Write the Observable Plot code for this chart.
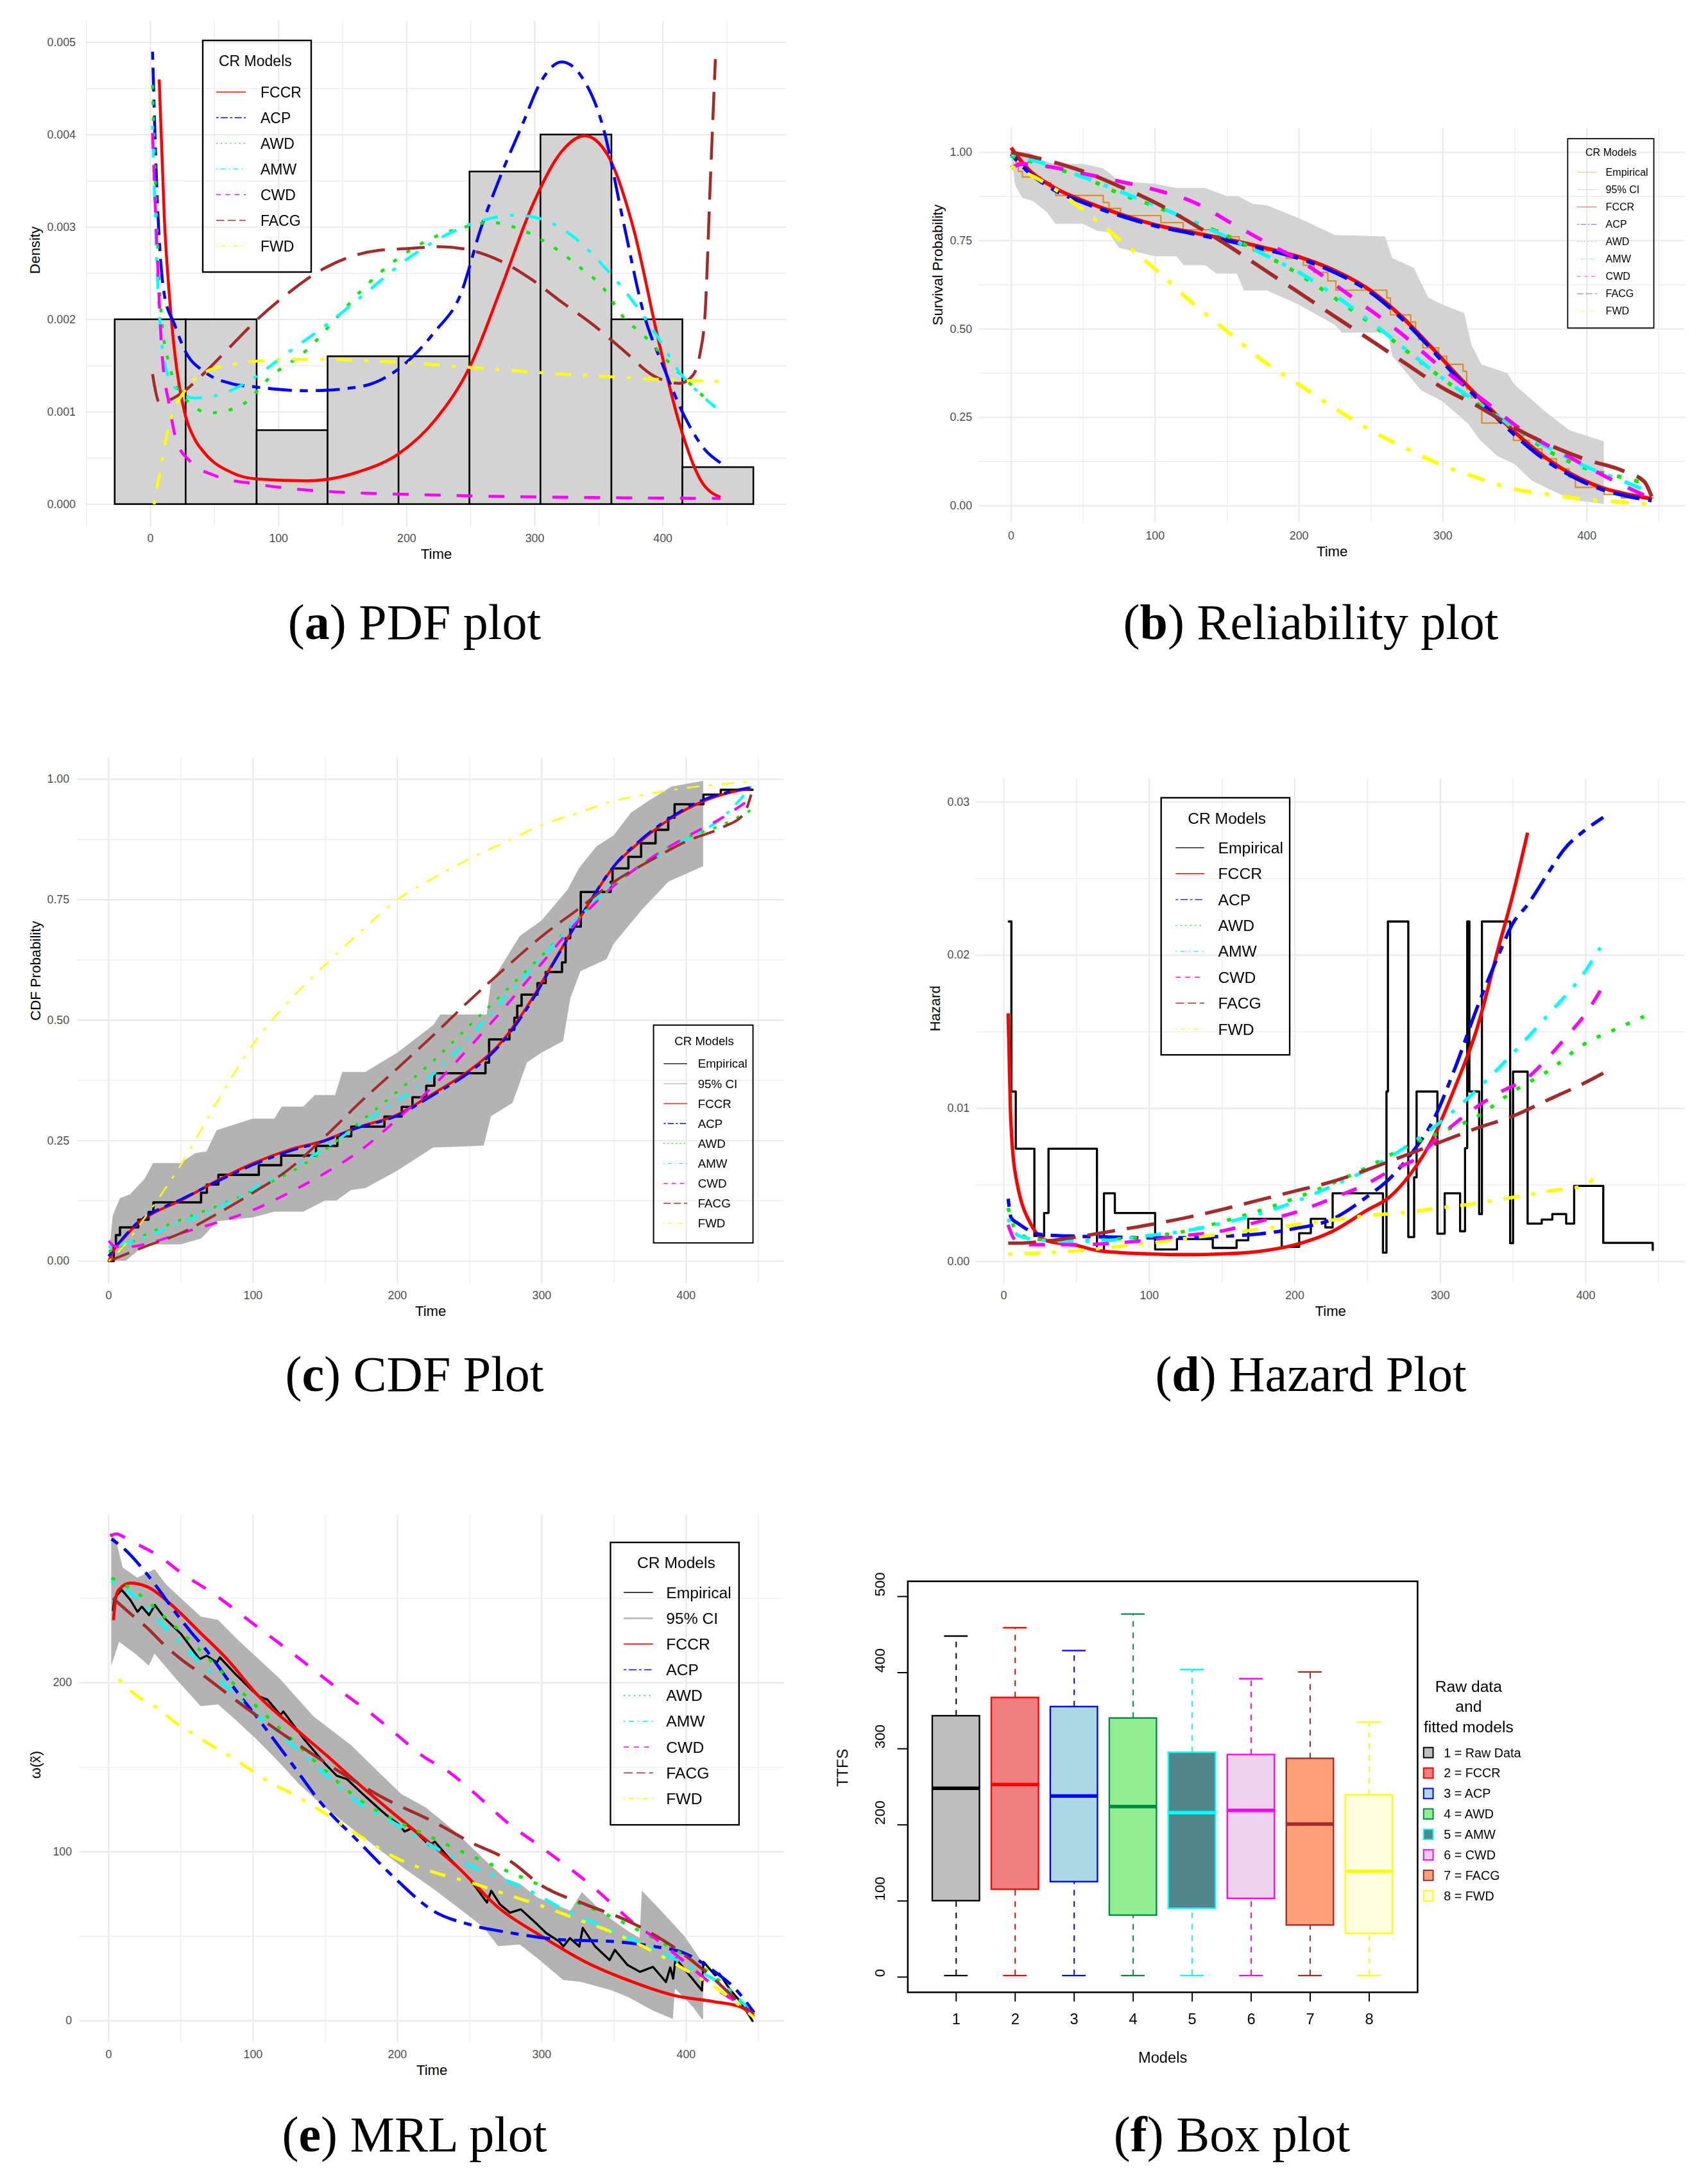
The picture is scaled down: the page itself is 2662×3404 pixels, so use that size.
<!DOCTYPE html>
<html><head><meta charset="utf-8">
<script src="https://cdn.jsdelivr.net/npm/d3@7"></script>
<script src="https://cdn.jsdelivr.net/npm/@observablehq/plot@0.6"></script>
<style>
body{margin:0;background:#fff;}
#page{position:relative;width:2662px;height:3404px;overflow:hidden;background:#fff;font-family:"Liberation Sans",Arial,sans-serif;}
.panel{position:absolute;}
.panel svg{max-width:none !important;}
#overlay{position:absolute;left:0;top:0;pointer-events:none;}
</style></head><body><div id="page"></div>
<script>
// ---------------- DATA ----------------
const models = ["FCCR","ACP","AWD","AMW","CWD","FACG","FWD"];
const modelColors = ["#FF0000","#0000FF","#00EE00","#00FFFF","#FF00FF","#A52A2A","#FFFF00"];

// (a) PDF: histogram
const histMid = [0, 55.4, 110.8, 166.2, 221.6, 277.0, 332.4, 387.8, 443.2];
const histDen = [0.0020, 0.0020, 0.0008, 0.0016, 0.0016, 0.0036, 0.0040, 0.0020, 0.0004];
const histHalf = 27.7;
const pdfFCCR = [[6.8,0.0046],[10.8,0.0031],[14.7,0.00227],[18.7,0.00167],[26.7,0.00099],[34,0.00072],[42.6,0.00055],[62.5,0.00035],[82.5,0.000275],[122,0.000255],[162,0.00035],[194,0.00055],[222,0.00091],[250,0.00151],[274,0.00235],[298,0.00323],[321,0.00382],[339,0.00399],[357,0.00378],[377,0.00299],[397,0.00175],[413,0.00087],[429,0.000275],[445,0.000076]];
const pdfACP = [[1.6,0.0049],[4.8,0.00347],[10.8,0.00227],[18.7,0.00195],[26.7,0.00167],[42.6,0.00143],[62.5,0.00131],[82.5,0.00127],[122,0.00123],[162,0.00127],[194,0.00147],[222,0.00187],[242,0.00227],[258,0.00299],[274,0.00358],[290,0.0041],[305,0.00458],[321,0.00479],[337,0.00462],[353,0.0041],[369,0.00307],[385,0.00207],[401,0.00147],[417,0.00095],[433,0.00059],[445,0.00045]];
const pdfAWD = [[1.6,0.00454],[4.8,0.00307],[8.8,0.00199],[14.7,0.00151],[26.7,0.00115],[46.6,0.00099],[70.5,0.00107],[94.4,0.00139],[122,0.00167],[146,0.00203],[170,0.00239],[194,0.00267],[218,0.00287],[242,0.00299],[266,0.00305],[290,0.00297],[314,0.00279],[333,0.00259],[353,0.00235],[369,0.00203],[385,0.00183],[401,0.00159],[421,0.00131],[441,0.00105]];
const pdfAMW = [[1.6,0.0041],[4.8,0.00267],[10.8,0.00155],[18.7,0.00127],[34.7,0.00115],[54.6,0.00119],[78.5,0.00135],[106,0.00163],[138,0.00195],[170,0.00231],[202,0.00267],[230,0.00291],[258,0.00307],[286,0.00313],[305,0.00309],[329,0.00291],[353,0.00259],[377,0.00219],[397,0.00179],[413,0.00143],[425,0.00125],[441,0.00105]];
const pdfCWD = [[1.6,0.00402],[4.8,0.00287],[8.8,0.00167],[14.7,0.00107],[20.7,0.00067],[30.7,0.00047],[50.6,0.00031],[82.5,0.00022],[122,0.000155],[162,0.000124],[202,0.000108],[282,0.000084],[361,0.000072],[445,0.000064]];
const pdfFACG = [[1.6,0.00141],[6.8,0.00111],[14.7,0.00113],[26.7,0.00123],[42.6,0.00143],[62.5,0.00171],[82.5,0.00199],[106,0.00227],[130,0.00251],[154,0.00267],[178,0.00275],[202,0.00277],[226,0.00279],[250,0.00275],[274,0.00263],[298,0.00243],[321,0.00219],[345,0.00195],[369,0.00167],[393,0.00139],[413,0.00131],[423,0.00139],[429,0.00163],[433,0.00207],[437,0.00347],[441,0.00482]];
const pdfFWD = [[2.8,0.0],[6.8,0.00031],[14.7,0.00087],[26.7,0.00123],[42.6,0.00143],[62.5,0.00151],[82.5,0.00155],[122,0.00157],[162,0.00156],[202,0.00153],[242,0.00149],[282,0.00145],[321,0.00141],[361,0.00138],[401,0.00135],[445,0.00133]];

// empirical CDF (time, F) and its 95% CI (lower / upper edges)
const ecdfT = [0,3.5,5,7.8,20.5,27.6,31,64,68,76,104,119.5,143.6,158.4,168,191,203,210.4,220,225.6,261,263.5,277.6,281,283,286,297,302.7,314,316.5,319.7,327,347.7,349,360,368.8,378.8,387.6,392,412,424,446];
const ecdfF = [0,0.03,0.054,0.07,0.086,0.102,0.122,0.142,0.159,0.179,0.199,0.219,0.239,0.259,0.279,0.30,0.32,0.34,0.364,0.39,0.412,0.46,0.48,0.505,0.53,0.553,0.577,0.60,0.62,0.67,0.694,0.766,0.787,0.815,0.839,0.867,0.895,0.92,0.948,0.968,0.978,0.978];
const ciUpper = [[0,0],[3,0.094],[8,0.13],[15,0.138],[25,0.17],[31,0.203],[50,0.203],[60,0.223],[68,0.227],[75,0.271],[100,0.295],[115,0.295],[120,0.32],[135,0.32],[143,0.344],[157,0.344],[162,0.392],[178,0.392],[200,0.432],[225,0.489],[230,0.511],[262,0.511],[265,0.577],[285,0.674],[300,0.706],[318,0.77],[326,0.815],[338,0.86],[350,0.883],[362,0.93],[375,0.956],[390,0.984],[412,0.996]];
const ciLower = [[0,0],[12,0.0],[20,0.02],[30,0.034],[40,0.034],[50,0.034],[64,0.046],[68,0.058],[75,0.082],[100,0.09],[115,0.102],[135,0.102],[150,0.125],[158,0.125],[168,0.147],[178,0.151],[200,0.187],[225,0.235],[245,0.237],[260,0.239],[265,0.30],[280,0.328],[290,0.412],[300,0.432],[315,0.456],[320,0.545],[327,0.601],[345,0.626],[350,0.658],[370,0.73],[388,0.787],[400,0.803],[412,0.819]];

// (b) survival
const srFCCR = [[0,1.013],[10,0.96],[30,0.90],[50,0.863],[75,0.826],[100,0.795],[125,0.774],[150,0.754],[175,0.731],[200,0.704],[225,0.665],[250,0.608],[270,0.54],[290,0.457],[310,0.369],[330,0.286],[350,0.208],[370,0.14],[390,0.088],[410,0.052],[430,0.031],[445,0.02]];
const srACP = [[0,0.995],[10,0.952],[30,0.893],[50,0.858],[75,0.822],[100,0.792],[125,0.771],[150,0.75],[175,0.727],[200,0.70],[225,0.66],[250,0.603],[270,0.535],[290,0.452],[310,0.362],[330,0.279],[350,0.20],[370,0.133],[390,0.083],[410,0.047],[430,0.026],[445,0.015]];
const srAWD = [[0,0.99],[25,0.96],[50,0.93],[75,0.884],[100,0.847],[125,0.806],[150,0.764],[175,0.712],[200,0.655],[225,0.587],[250,0.515],[275,0.437],[300,0.359],[325,0.286],[350,0.218],[375,0.151],[400,0.105],[425,0.08],[442,0.062]];
const srAMW = [[0,0.995],[25,0.965],[50,0.93],[75,0.89],[100,0.85],[125,0.806],[150,0.76],[175,0.712],[200,0.66],[225,0.595],[250,0.52],[275,0.44],[300,0.36],[325,0.29],[350,0.22],[375,0.16],[400,0.11],[425,0.07],[440,0.045]];
const srCWD = [[0,0.956],[8,0.967],[25,0.96],[50,0.94],[75,0.918],[100,0.894],[125,0.862],[155,0.795],[178,0.743],[200,0.695],[238,0.587],[269,0.494],[299,0.39],[329,0.296],[359,0.203],[382,0.151],[420,0.068],[445,0.02]];
const srFACG = [[0,1.0],[25,0.977],[50,0.946],[75,0.904],[100,0.858],[125,0.80],[150,0.738],[175,0.67],[200,0.603],[225,0.535],[250,0.468],[275,0.40],[300,0.333],[325,0.28],[350,0.22],[375,0.17],[400,0.13],[425,0.099],[440,0.068],[445,0.026]];
const srFWD = [[0,0.96],[25,0.91],[50,0.837],[75,0.754],[100,0.67],[125,0.577],[150,0.494],[175,0.41],[200,0.343],[225,0.275],[250,0.213],[275,0.161],[300,0.114],[325,0.078],[350,0.047],[375,0.031],[400,0.018],[425,0.01],[445,0.003]];

// (c) CDF
const cdFCCR = [[0,0],[5,0.03],[10,0.046],[20,0.078],[30,0.098],[50,0.126],[75,0.167],[100,0.203],[125,0.231],[150,0.251],[170,0.275],[200,0.304],[225,0.348],[250,0.396],[270,0.448],[290,0.529],[310,0.63],[330,0.73],[350,0.819],[370,0.875],[390,0.92],[410,0.952],[430,0.972],[445,0.981]];
const cdACP = [[0,0.01],[5,0.03],[10,0.048],[20,0.08],[30,0.1],[50,0.128],[75,0.165],[100,0.2],[125,0.228],[150,0.25],[170,0.274],[200,0.302],[225,0.345],[250,0.392],[270,0.445],[290,0.525],[310,0.628],[330,0.73],[350,0.82],[370,0.878],[390,0.922],[410,0.955],[430,0.974],[445,0.983]];
const cdAWD = [[0,0.02],[10,0.03],[25,0.054],[50,0.086],[75,0.114],[100,0.147],[125,0.183],[150,0.231],[175,0.291],[200,0.352],[225,0.416],[250,0.489],[275,0.561],[300,0.634],[325,0.71],[350,0.779],[375,0.835],[400,0.878],[425,0.905],[445,0.936]];
const cdAMW = [[0,0.03],[10,0.035],[25,0.05],[50,0.08],[75,0.11],[100,0.15],[125,0.19],[150,0.235],[175,0.285],[200,0.332],[225,0.388],[250,0.465],[275,0.549],[300,0.63],[325,0.71],[350,0.787],[375,0.83],[400,0.875],[425,0.92],[445,0.984]];
const cdCWD = [[0,0.042],[5,0.03],[15,0.03],[25,0.035],[50,0.058],[75,0.08],[100,0.106],[125,0.142],[150,0.183],[175,0.231],[200,0.295],[225,0.364],[250,0.444],[275,0.529],[300,0.618],[325,0.706],[350,0.779],[375,0.835],[400,0.88],[425,0.92],[445,0.96]];
const cdFACG = [[0,0],[25,0.03],[50,0.058],[75,0.098],[100,0.142],[125,0.191],[150,0.259],[175,0.332],[200,0.40],[225,0.469],[250,0.541],[275,0.609],[300,0.674],[325,0.73],[350,0.787],[375,0.831],[400,0.871],[425,0.9],[440,0.928],[445,0.968]];
const cdFWD = [[0,0],[10,0.03],[25,0.09],[50,0.2],[75,0.33],[100,0.45],[125,0.54],[150,0.615],[175,0.685],[200,0.75],[225,0.795],[250,0.835],[275,0.87],[300,0.905],[325,0.93],[350,0.955],[375,0.97],[400,0.982],[425,0.99],[445,0.995]];

// (d) hazard
const hzEmp = [[3.4,0.0222],[5.2,0.0111],[8.2,0.00737],[21,0.00167],[27.7,0.00317],[30.7,0.00737],[64,0.00071],[68.8,0.00446],[76.3,0.00317],[104,0.00079],[119,0.00147],[143.6,0.00089],[160,0.00139],[168,0.00279],[191,0.00096],[203,0.00185],[211,0.00279],[221,0.00223],[226,0.00446],[260.6,0.00058],[263,0.0111],[264,0.0222],[278,0.0016],[282,0.0055],[283.7,0.0111],[298,0.00182],[303,0.00446],[313.6,0.00198],[317,0.0074],[318.5,0.0222],[320,0.0111],[326.7,0.0031],[328.6,0.0222],[348,0.0012],[350,0.0124],[360,0.00248],[369.7,0.00274],[377,0.0031],[386.5,0.00248],[392,0.00494],[412,0.00122],[446,0.00076]];
const hzFCCR = [[3,0.0162],[4.5,0.0100],[7.5,0.006],[20,0.0022],[25,0.0016],[30,0.00134],[50,0.00105],[65,0.00071],[100,0.0005],[125,0.00045],[150,0.0005],[175,0.00066],[200,0.00109],[225,0.00193],[250,0.00337],[265,0.0042],[280,0.00578],[295,0.00806],[310,0.01135],[325,0.01515],[340,0.0205],[350,0.024],[360,0.028]];
const hzACP = [[3,0.0041],[5,0.00286],[10,0.00248],[25,0.00177],[50,0.00165],[75,0.0016],[100,0.00155],[125,0.00155],[150,0.00165],[175,0.0018],[200,0.00215],[225,0.00274],[250,0.00426],[265,0.0054],[280,0.00704],[295,0.0092],[310,0.0126],[325,0.0165],[340,0.02],[350,0.0221],[360,0.0233],[375,0.0255],[385,0.0269],[400,0.0282],[412,0.029]];
const hzAWD = [[3,0.0035],[8,0.0021],[20,0.00147],[50,0.00134],[75,0.00147],[100,0.00165],[125,0.00198],[150,0.0026],[175,0.0033],[200,0.00413],[225,0.00507],[250,0.00616],[275,0.00742],[300,0.00844],[325,0.00945],[350,0.0111],[375,0.0125],[400,0.01426],[420,0.01515],[440,0.016]];
const hzAMW = [[3,0.0028],[10,0.0017],[25,0.0014],[50,0.0013],[75,0.0014],[100,0.0017],[125,0.002],[150,0.0025],[175,0.0031],[200,0.0039],[225,0.0049],[250,0.006],[275,0.0074],[300,0.0091],[325,0.0112],[350,0.0136],[375,0.0162],[400,0.019],[410,0.0205]];
const hzCWD = [[3,0.0024],[7,0.0015],[15,0.0011],[30,0.0011],[50,0.0011],[75,0.0012],[100,0.0014],[125,0.0017],[150,0.002],[175,0.0026],[200,0.0032],[225,0.0041],[250,0.0051],[265,0.0059],[283,0.0067],[300,0.0082],[325,0.0101],[342,0.0111],[360,0.012],[370,0.0129],[386,0.0146],[400,0.0162],[412,0.018]];
const hzFACG = [[3,0.0012],[10,0.0012],[25,0.0013],[50,0.0016],[75,0.002],[100,0.0024],[125,0.00286],[150,0.0034],[175,0.004],[200,0.0046],[225,0.0052],[250,0.006],[275,0.0069],[300,0.0078],[325,0.0087],[350,0.0095],[375,0.0106],[400,0.0117],[412,0.0123]];
const hzFWD = [[3,0.0005],[25,0.00055],[50,0.0007],[75,0.00095],[100,0.0012],[125,0.0015],[150,0.0018],[175,0.0021],[200,0.0024],[225,0.0027],[250,0.003],[275,0.0032],[300,0.0035],[325,0.0038],[350,0.0042],[375,0.0046],[400,0.005],[405,0.0054]];

// (e) MRL
const mrEmp = [[3,243],[4,250],[9,255],[15,249],[20,242],[23,245],[28,240],[32,246],[39,238],[50,229],[63,214],[68,216],[75,212],[77,215],[88,205],[100,195],[104,192],[110,190],[119,181],[121,183],[135,167],[145,157],[150,152],[158,145],[165,143],[175,135],[188,125],[192,122],[200,117],[205,112],[210,114],[222,104],[226,106],[235,97],[250,84],[262,70],[265,77],[271,69],[278,64],[285.5,66],[297,57],[303,52],[312,47],[315,44],[319.5,49],[326,44],[328.4,55],[337,44],[347,36],[350.6,42],[359.5,33],[368,29],[377,32],[386,23],[389,31.6],[391,25],[392.7,37],[411,18],[412,35],[420,27],[423,28],[430,19],[438,11],[446,0]];
const mrUpper = [[2,288],[5,285],[10,268],[20,262],[32,267],[40,258],[50,250],[64,239],[76,237],[90,225],[104,214],[119,202],[142,180],[168,163],[192,143],[203,134],[220,126],[240,112],[262,94],[275,84],[285,81],[297,73],[305,70],[320,65],[328,76],[345,62],[360,53],[368,49],[369.5,77],[385,63],[399,50],[411,35],[412,35]];
const mrLower = [[2,210],[7.5,224],[20,216],[28,210],[32,217],[40,209],[48,201],[64,186],[76,187],[88,178],[103,166],[118,153],[132,140],[146,129],[165,116],[185,103],[205,90],[225,78],[245,65],[260,55],[270,44],[285,45],[297,37],[315,24],[327,23],[348,18],[360,14],[377,6],[391,1],[392.5,19],[405,8],[411,1],[412,1]];
const mrFCCR = [[3.4,237],[4.5,248],[7,255],[15,259],[26,257],[45,245],[63,230],[82,214],[104,192],[129,173],[151,157],[172,141],[194,125],[243,90],[270,67],[300,50],[330,35],[360,24],[392,15],[419,11.4],[438,8.2],[447,2.5]];
const mrACP = [[2,285],[11,279],[22,269],[34,256],[45,243],[57,230],[67,220],[85,199],[106,176],[127,152],[147,129],[172,107],[200,83],[225,65],[250,57],[279,52],[314,48],[349,47],[378,44],[399,40],[420,29],[434,19],[447,5]];
const mrAWD = [[2,262],[20,253],[40,238],[60,222],[80,205],[100,188],[125,168],[150,148],[175,130],[200,118],[225,108],[250,98],[275,89],[297,81],[327,69],[347,62],[375,50],[402,37],[420,26],[435,14],[447,2]];
const mrAMW = [[2,260],[20,250],[40,232],[60,215],[80,199],[100,183],[125,165],[150,146],[175,128],[200,116],[225,103],[250,92],[278,82],[296,75],[315,66],[342,56],[360,49],[374,44],[389,38],[400,33],[422,23],[441,9],[447,2]];
const mrCWD = [[1,287],[5.6,288],[11,286],[22,281],[33,276],[52,264],[72,253],[100,235],[128,217],[146,205],[164,193],[183,181],[200,169],[217,157],[236,147],[253,135],[278,116],[296,105],[315,93],[333,81],[349,69],[362,59],[380,48],[396,37],[413,25],[426,16],[438,9.5],[447,2]];
const mrFACG = [[3,250],[19,238],[26,233],[39,222],[50,214],[63,206],[86,191],[110,176],[132,163],[157,149],[188,133],[229,116],[250,106],[279,94],[300,80],[330,69],[360,59],[389,45],[419,25],[438,10],[447,4]];
const mrFWD = [[7,202],[20,192],[34,185],[47,176],[60,169],[73,162],[87,155],[101,147],[114,140],[128,134],[142,127],[160,117],[180,106],[200,96],[225,88],[250,82],[275,75],[300,68],[325,60],[350,52],[375,42],[400,30],[425,17],[447,2]];

// (f) box plot
const boxLabels = ["1 = Raw Data","2 = FCCR","3 = ACP","4 = AWD","5 = AMW","6 = CWD","7 = FACG","8 = FWD"];
const boxLow = [2,2,2,2,2,2,2,2];
const boxQ1 = [100,115,125,81,90,103,68,57];
const boxMed = [248,253,238,224,216,219,201,139];
const boxQ3 = [343,367,355,340,295,292,287,239];
const boxHigh = [448,459,429,477,404,392,401,335];
const boxFill = ["#BEBEBE","#F08080","#ADD8E6","#90EE90","#53868B","#EED2EE","#FFA07A","#FFFFE0"];
const boxLine = ["#000000","#FF0000","#0000FF","#008B45","#00FFFF","#FF00FF","#A52A2A","#FFFF00"];

// ---------------- HELPERS ----------------
const K = 0.987; // layout correction factor about each panel's origin
const LTY = {FCCR:null, ACP:[2,2,6,2], AWD:[1,3], AMW:[1,3,4,3], CWD:[4,4], FACG:[7,3], FWD:[1,3,4,3], Empirical:null, CI:null};
function dash(name,u){const p=LTY[name];return p?p.map(v=>(v*u).toFixed(1)).join(","):"none";}
const page = document.getElementById("page");

function place(svg, left, top, ox, oy){
  const d=document.createElement("div");d.className="panel";d.style.left=left+"px";d.style.top=top+"px";
  d.style.transformOrigin=`${ox-left}px ${oy-top}px`;d.style.transform=`scale(${K})`;
  d.appendChild(svg);page.appendChild(d);
}
function modelLines(series, w, u, extra={}){
  return models.map((m,i)=>Plot.line(series[i],{x:d=>d[0],y:d=>d[1],stroke:modelColors[i],
    strokeWidth:(extra.w&&extra.w[m])||w,strokeDasharray:dash(m,(extra.u&&extra.u[m])||u),
    strokeLinecap:"butt",strokeLinejoin:"round",curve:"monotone-x"}));
}
function ggPanel(p){
  const marks=[
    Plot.ruleX(p.xMinor,{stroke:"#EBEBEB",strokeWidth:1.2}),
    Plot.ruleY(p.yMinor,{stroke:"#EBEBEB",strokeWidth:1.2}),
    Plot.ruleX(p.xMajor,{stroke:"#EBEBEB",strokeWidth:2.4}),
    Plot.ruleY(p.yMajor,{stroke:"#EBEBEB",strokeWidth:2.4}),
    ...p.marks,
    Plot.axisX(p.xMajor,{tickSize:0,tickPadding:p.xPad,fontSize:18,fill:"#4D4D4D",label:null,tickFormat:d=>String(d)}),
    Plot.axisY(p.yMajor,{tickSize:0,tickPadding:p.yPad,fontSize:18,fill:"#4D4D4D",label:null,tickFormat:p.yFmt}),
    Plot.text([p.xLabel],{text:d=>d,frameAnchor:"bottom",dy:p.xLabDy,fontSize:22.5,lineAnchor:"middle"}),
    Plot.text([p.yLabel],{text:d=>d,frameAnchor:"left",dx:p.yLabDx,rotate:-90,fontSize:22.5,lineAnchor:"middle"})
  ];
  const svg=Plot.plot({width:p.w,height:p.h,marginLeft:p.mL,marginRight:p.mR,marginTop:p.mT,marginBottom:p.mB,
    x:{domain:p.xDom},y:{domain:p.yDom},color:{type:"identity"},
    style:{fontFamily:"Liberation Sans, Arial, sans-serif",fontSize:"18px",background:"transparent",overflow:"visible"},
    marks});
  place(svg,p.left,p.top,p.ox,p.oy);
}
const xMaj=[0,100,200,300,400];

// ---------------- (a) PDF ----------------
ggPanel({left:0,top:0,ox:0,oy:0,w:1300,h:900,mL:135,mR:58,mT:33,mB:69,xDom:[-50.5,496.8],yDom:[-0.00024,0.00523],
  xMajor:xMaj,xMinor:[-50,50,150,250,350,450],yMajor:[0,0.001,0.002,0.003,0.004,0.005],yMinor:[0.0005,0.0015,0.0025,0.0035,0.0045],
  yFmt:d3.format(".3f"),xPad:12,yPad:16,xLabel:"Time",yLabel:"Density",xLabDy:44,yLabDx:-80,
  marks:[
    Plot.rect(histMid.map((m,i)=>({m,d:histDen[i]})),{x1:d=>d.m-histHalf,x2:d=>d.m+histHalf,y1:0,y2:d=>d.d,fill:"#D3D3D3",stroke:"#000",strokeWidth:2.6}),
    ...modelLines([pdfFCCR,pdfACP,pdfAWD,pdfAMW,pdfCWD,pdfFACG,pdfFWD],4.6,6.3)
  ]});

// ---------------- (b) Reliability ----------------
const ecdf = ecdfT.map((t,i)=>[t,ecdfF[i]]);
ggPanel({left:1331,top:0,ox:1330,oy:0,w:1331,h:900,mL:197,mR:19,mT:202,mB:75,xDom:[-22.3,468.3],yDom:[-0.048,1.068],
  xMajor:xMaj,xMinor:[50,150,250,350,450],yMajor:[0,0.25,0.5,0.75,1],yMinor:[0.125,0.375,0.625,0.875],
  yFmt:d3.format(".2f"),xPad:14,yPad:11,xLabel:"Time",yLabel:"Survival Probability",xLabDy:46,yLabDx:-65,
  marks:[
    Plot.area(d3.range(ciUpper.length),{x1:i=>ciUpper[i][0],y1:i=>1-ciUpper[i][1],x2:i=>ciLower[i][0],y2:i=>1-ciLower[i][1],fill:"#D3D3D3"}),
    Plot.line(ecdf,{x:d=>d[0],y:d=>1-d[1],stroke:"#DB8E1C",strokeWidth:2.2,curve:"step-after"}),
    ...modelLines([srFCCR,srACP,srAWD,srAMW,srCWD,srFACG,srFWD],6,7)
  ]});

// ---------------- (c) CDF ----------------
ggPanel({left:0,top:1120,ox:0,oy:1120,w:1300,h:1000,mL:121,mR:62,mT:61,mB:108,xDom:[-22,468],yDom:[-0.047,1.045],
  xMajor:xMaj,xMinor:[50,150,250,350,450],yMajor:[0,0.25,0.5,0.75,1],yMinor:[0.125,0.375,0.625,0.875],
  yFmt:d3.format(".2f"),xPad:12,yPad:12,xLabel:"Time",yLabel:"CDF Probability",xLabDy:44,yLabDx:-65,
  marks:[
    Plot.area(d3.range(ciUpper.length),{x1:i=>ciLower[i][0],y1:i=>ciLower[i][1],x2:i=>ciUpper[i][0],y2:i=>ciUpper[i][1],fill:"#B3B3B3"}),
    Plot.line(ecdf,{x:d=>d[0],y:d=>d[1],stroke:"#000",strokeWidth:3.6,curve:"step-after"}),
    ...modelLines([cdFCCR,cdACP,cdAWD,cdAMW,cdCWD,cdFACG,cdFWD],4.1,5,{w:{FWD:2.6},u:{FWD:5}})
  ]});

// ---------------- (d) Hazard ----------------
ggPanel({left:1331,top:1120,ox:1330,oy:1120,w:1331,h:1000,mL:192,mR:19,mT:95,mB:108,xDom:[-19.2,468.3],yDom:[-0.00145,0.0315],
  xMajor:xMaj,xMinor:[50,150,250,350,450],yMajor:[0,0.01,0.02,0.03],yMinor:[0.005,0.015,0.025],
  yFmt:d3.format(".2f"),xPad:12,yPad:10,xLabel:"Time",yLabel:"Hazard",xLabDy:44,yLabDx:-64,
  marks:[
    Plot.line(hzEmp,{x:d=>d[0],y:d=>d[1],stroke:"#000",strokeWidth:3.4,curve:"step-after"}),
    ...modelLines([hzFCCR,hzACP,hzAWD,hzAMW,hzCWD,hzFACG,hzFWD],5.4,6.3)
  ]});

// ---------------- (e) MRL ----------------
ggPanel({left:0,top:2330,ox:0,oy:2330,w:1300,h:950,mL:125,mR:62,mT:31,mB:86,xDom:[-20.2,468],yDom:[-12.7,299.3],
  xMajor:xMaj,xMinor:[50,150,250,350,450],yMajor:[0,100,200],yMinor:[50,150,250],
  yFmt:d=>String(d),xPad:12,yPad:12,xLabel:"Time",yLabel:"\u03C9(x\u0303)",xLabDy:44,yLabDx:-69,
  marks:[
    Plot.area(d3.range(mrUpper.length),{x1:i=>mrLower[i][0],y1:i=>mrLower[i][1],x2:i=>mrUpper[i][0],y2:i=>mrUpper[i][1],fill:"#B3B3B3"}),
    Plot.line(mrEmp,{x:d=>d[0],y:d=>d[1],stroke:"#000",strokeWidth:3.4}),
    ...modelLines([mrFCCR,mrACP,mrAWD,mrAMW,mrCWD,mrFACG,mrFWD],4.8,6.3)
  ]});

// ---------------- (f) Box plot ----------------
const boxes = boxLabels.map((l,k)=>({i:k+1,low:boxLow[k],q1:boxQ1[k],med:boxMed[k],q3:boxQ3[k],high:boxHigh[k],fill:boxFill[k],col:boxLine[k]}));
{
  const svg=Plot.plot({width:1331,height:900,marginLeft:85,marginRight:441,marginTop:65,marginBottom:186,
    x:{domain:[0.18,8.82]},y:{domain:[-20,520]},color:{type:"identity"},
    style:{fontFamily:"Liberation Sans, Arial, sans-serif",fontSize:"23px",background:"transparent",overflow:"visible"},
    marks:[
      Plot.ruleX(boxes,{x:d=>d.i,y1:d=>d.low,y2:d=>d.q1,stroke:d=>d.col,strokeWidth:2,strokeDasharray:"9,9"}),
      Plot.ruleX(boxes,{x:d=>d.i,y1:d=>d.q3,y2:d=>d.high,stroke:d=>d.col,strokeWidth:2,strokeDasharray:"9,9"}),
      Plot.ruleY(boxes,{y:d=>d.low,x1:d=>d.i-0.2,x2:d=>d.i+0.2,stroke:d=>d.col,strokeWidth:2.4}),
      Plot.ruleY(boxes,{y:d=>d.high,x1:d=>d.i-0.2,x2:d=>d.i+0.2,stroke:d=>d.col,strokeWidth:2.4}),
      Plot.rect(boxes,{x1:d=>d.i-0.4,x2:d=>d.i+0.4,y1:d=>d.q1,y2:d=>d.q3,fill:d=>d.fill,stroke:d=>d.col,strokeWidth:2.4}),
      Plot.ruleY(boxes,{y:d=>d.med,x1:d=>d.i-0.4,x2:d=>d.i+0.4,stroke:d=>d.col,strokeWidth:5.5}),
      Plot.frame({stroke:"#000",strokeWidth:2.6}),
      Plot.axisY([0,100,200,300,400,500],{tickSize:16,tickFormat:()=>"",strokeWidth:2,label:null}),
      Plot.text([0,100,200,300,400,500],{y:d=>d,text:d=>String(d),frameAnchor:"left",dx:-44,rotate:-90,fontSize:23,lineAnchor:"middle"}),
      Plot.axisX(boxes.map(b=>b.i),{tickSize:15,tickPadding:18,fontSize:24,strokeWidth:2,label:null}),
      Plot.text(["Models"],{text:d=>d,frameAnchor:"bottom",dy:104,fontSize:24,lineAnchor:"middle"}),
      Plot.text(["TTFS"],{text:d=>d,frameAnchor:"left",dx:-102,rotate:-90,fontSize:24,lineAnchor:"middle"})
    ]});
  place(svg,1331,2400,1290,2400);
}

// ---------------- overlay: legends & captions ----------------
const ov=d3.select(page).append("svg").attr("id","overlay").attr("width",2662).attr("height",3404);
function grp(ox,oy,scaled){
  const g=ov.append("g").attr("font-family","Liberation Sans, Arial, sans-serif");
  if(scaled) g.attr("transform",`translate(${ox},${oy}) scale(${K}) translate(${-ox},${-oy})`);
  return g;
}
function legend(o){
  const g=grp(o.ox,o.oy,o.scaled);
  g.append("rect").attr("x",o.x0).attr("y",o.y0).attr("width",o.x1-o.x0).attr("height",o.y1-o.y0)
    .attr("fill","none").attr("stroke","#000").attr("stroke-width",o.bw||2.4);
  g.append("text").attr("x",o.tx).attr("y",o.ty).attr("dy","0.35em").attr("font-size",o.fs).text("CR Models");
  o.rows.forEach((r,i)=>{
    const y=o.ry+i*o.rdy;
    const ln=g.append("line").attr("x1",o.kx1).attr("x2",o.kx2).attr("y1",y).attr("y2",y)
      .attr("stroke",r.c).attr("stroke-width",r.w||o.kw).attr("stroke-opacity",o.op||1);
    const da=dash(r.n,o.ku); if(da!=="none") ln.attr("stroke-dasharray",da);
    g.append("text").attr("x",o.tx2).attr("y",y).attr("dy","0.35em").attr("font-size",o.fs).text(r.n==="CI"?"95% CI":r.n);
  });
}
const mRows = models.map((m,i)=>({n:m,c:modelColors[i]}));
legend({ox:0,oy:0,scaled:false,x0:316,y0:63,x1:485,y1:424,tx:341,ty:95,fs:23,ry:143.5,rdy:40,kx1:337,kx2:383,tx2:406,kw:1.4,ku:1.8,rows:mRows});
legend({ox:1330,oy:0,scaled:true,x0:2458,y0:219,x1:2594,y1:518,tx:2486,ty:240,fs:16.3,ry:272,rdy:27.4,kx1:2473,kx2:2504,tx2:2518,kw:1.4,ku:1.4,op:0.5,bw:1.8,
  rows:[{n:"Empirical",c:"#FFA500"},{n:"CI",c:"#BEBEBE"},...mRows]});
legend({ox:0,oy:1120,scaled:true,x0:1032,y0:1604,x1:1189,y1:1948,tx:1065,ty:1629,fs:19,ry:1665,rdy:31.5,kx1:1048,kx2:1085,tx2:1102,kw:1.4,ku:1.6,bw:2,
  rows:[{n:"Empirical",c:"#000"},{n:"CI",c:"#BEBEBE"},...mRows]});
legend({ox:1330,oy:1120,scaled:true,x0:1816,y0:1245,x1:2019,y1:1651,tx:1858,ty:1277,fs:25,ry:1324,rdy:40.9,kx1:1839,kx2:1884,tx2:1906,kw:1.4,ku:1.9,
  rows:[{n:"Empirical",c:"#000"},...mRows]});
legend({ox:0,oy:2330,scaled:true,x0:964,y0:2405,x1:1167,y1:2851,tx:1006,ty:2437,fs:25,ry:2484,rdy:40.7,kx1:985,kx2:1031,tx2:1052,kw:1.6,ku:2,
  rows:[{n:"Empirical",c:"#000"},{n:"CI",c:"#BEBEBE",w:3},...mRows]});

// box plot legend
{
  const g=grp(1290,2400,true);
  ["Raw data","and","fitted models"].forEach((t,i)=>g.append("text").attr("x",2302).attr("y",2631+i*32).attr("dy","0.35em")
    .attr("text-anchor","middle").attr("font-size",25).text(t));
  boxLabels.forEach((t,i)=>{
    const y=2736+i*32.3;
    g.append("rect").attr("x",2231).attr("y",y-8).attr("width",15).attr("height",16).attr("fill",boxFill[i]).attr("stroke",boxLine[i]).attr("stroke-width",2);
    g.append("text").attr("x",2263).attr("y",y).attr("dy","0.35em").attr("font-size",20).text(t);
  });
}

// captions
const caps=[["a"," PDF plot",646,996],["b"," Reliability plot",2043,996],["c"," CDF Plot",646,2168],["d"," Hazard Plot",2043,2168],["e"," MRL plot",646,3353],["f"," Box plot",1920,3353]];
caps.forEach(([l,t,x,y])=>{
  const tx=ov.append("text").attr("x",x).attr("y",y).attr("text-anchor","middle")
    .attr("font-family","Liberation Serif, Times New Roman, serif").attr("font-size",78);
  tx.append("tspan").text("(");
  tx.append("tspan").attr("font-weight","bold").text(l);
  tx.append("tspan").text(")"+t);
});
</script></body></html>
